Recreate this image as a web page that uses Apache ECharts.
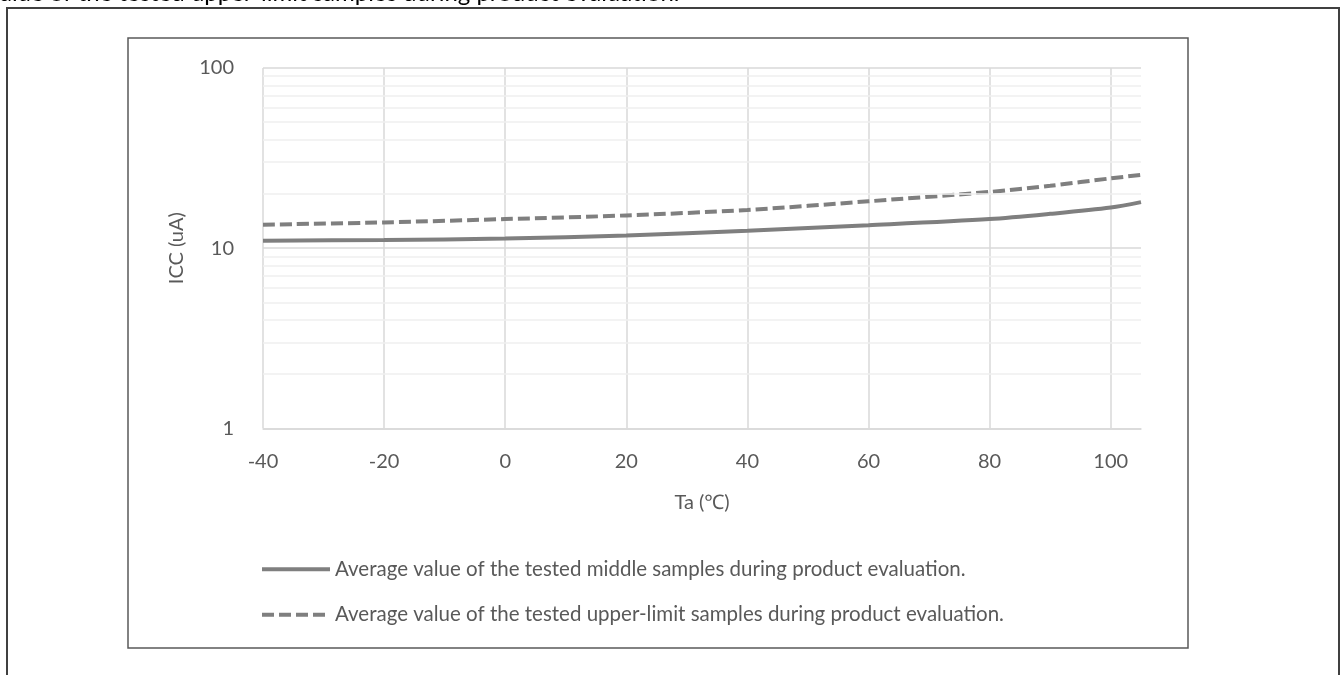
<!DOCTYPE html>
<html>
<head>
<meta charset="utf-8">
<script src="https://cdn.jsdelivr.net/npm/echarts@6/dist/echarts.min.js"></script>
<style>
html,body{margin:0;padding:0;background:#fff;overflow:hidden;}
#c{width:1341px;height:675px;}
</style>
</head>
<body>
<div id="c"></div>
<script>
// Data
const temperatures = [-40, -20, 0, 20, 40, 60, 80, 90, 100, 105];
const middleValues = [11.0, 11.1, 11.3, 11.75, 12.5, 13.4, 14.5, 15.5, 16.8, 18.0];
const upperValues  = [13.5, 13.9, 14.5, 15.2, 16.3, 18.2, 20.5, 22.2, 24.4, 25.5];
const minorGridValues = [2, 3, 4, 5, 6, 7, 8, 9, 20, 30, 40, 50, 60, 70, 80, 90];
const seriesNames = [
  'Average value of the tested middle samples during product evaluation.',
  'Average value of the tested upper-limit samples during product evaluation.'
];
const topText = 'alue of the tested upper-limit samples during product evaluation.';
const xName = 'Ta (\u2103)';
const yName = 'ICC (uA)';

const FONT = 'Lato, "Noto Sans", "Noto Sans CJK SC", sans-serif';
const TXT = '#595959';
const LINE = '#7f7f7f';

const chart = echarts.init(document.getElementById('c'), null, {renderer: 'canvas'});
chart.setOption({
  backgroundColor: '#ffffff',
  animation: false,
  textStyle: {fontFamily: FONT},
  graphic: [
    {type: 'text', left: 0, top: -18.3, style: {text: topText, font: '24px ' + FONT, fill: '#000'}},
    {type: 'rect', shape: {x: 7, y: 8, width: 1332, height: 720}, style: {fill: 'none', stroke: '#404040', lineWidth: 2}, z: 0},
    {type: 'rect', shape: {x: 128, y: 38, width: 1060, height: 610}, style: {fill: 'none', stroke: '#595959', lineWidth: 1.5}, z: 0}
  ],
  grid: {left: 263, right: 200, top: 68, bottom: 246.7, containLabel: false},
  legend: {
    orient: 'vertical',
    left: 260,
    top: 559,
    padding: 0,
    itemWidth: 68,
    itemHeight: 14,
    itemGap: 25,
    data: seriesNames,
    itemStyle: {opacity: 0},
    lineStyle: {width: 4},
    textStyle: {fontSize: 20.5, color: TXT, fontFamily: FONT}
  },
  xAxis: {
    type: 'value',
    min: -40,
    max: 105,
    interval: 20,
    name: xName,
    nameLocation: 'middle',
    nameGap: 64,
    nameTextStyle: {fontSize: 20, color: TXT, fontFamily: FONT},
    axisLine: {show: true, lineStyle: {color: '#d9d9d9', width: 1.5}},
    axisTick: {show: false},
    axisLabel: {fontSize: 20, color: TXT, margin: 23, showMaxLabel: false, fontFamily: FONT},
    splitLine: {show: true, showMaxLine: false, lineStyle: {color: '#d9d9d9', width: 1.5}}
  },
  yAxis: {
    type: 'log',
    logBase: 10,
    min: 1,
    max: 100,
    name: yName,
    nameLocation: 'middle',
    nameRotate: 90,
    nameGap: 76,
    nameTextStyle: {fontSize: 20, color: TXT, fontFamily: FONT},
    axisLine: {show: false},
    axisTick: {show: false},
    axisLabel: {fontSize: 20, color: TXT, margin: 29, fontFamily: FONT},
    splitLine: {show: true, lineStyle: {color: '#d9d9d9', width: 1.5}}
  },
  series: [
    {
      name: 'minor-grid',
      type: 'line',
      data: [],
      z: 1,
      silent: true,
      markLine: {
        silent: true,
        symbol: 'none',
        label: {show: false},
        lineStyle: {color: '#efefef', width: 1.5, type: 'solid'},
        data: minorGridValues.map(v => ({yAxis: v}))
      }
    },
    {
      name: seriesNames[0],
      type: 'line',
      z: 3,
      smooth: 0.3,
      showSymbol: false,
      symbol: 'none',
      lineStyle: {color: LINE, width: 4, type: 'solid'},
      itemStyle: {color: LINE},
      data: temperatures.map((t, i) => [t, middleValues[i]])
    },
    {
      name: seriesNames[1],
      type: 'line',
      z: 3,
      smooth: 0.3,
      showSymbol: false,
      symbol: 'none',
      lineStyle: {color: LINE, width: 4, type: [12, 5]},
      itemStyle: {color: LINE},
      data: temperatures.map((t, i) => [t, upperValues[i]])
    }
  ]
});
</script>
</body>
</html>
